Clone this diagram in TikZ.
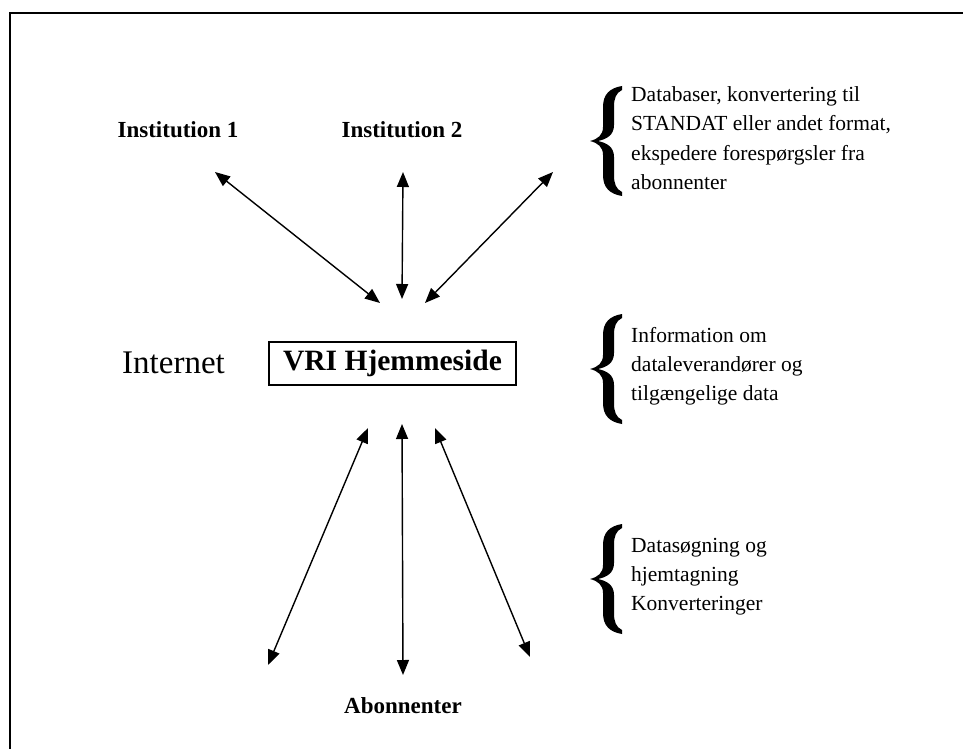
\documentclass[tikz,border=0pt]{standalone}
\usepackage{fontspec}
\setmainfont{Liberation Serif}
\usetikzlibrary{arrows.meta}
\tikzset{
  body/.style={font=\fontsize{21.5}{26}\selectfont, inner sep=0pt, anchor=base west},
  boldlab/.style={font=\bfseries\fontsize{23}{26}\selectfont, inner sep=0pt, anchor=base},
  arr/.style={line width=1.4pt, {Triangle[length=15pt,width=12pt]}-{Triangle[length=15pt,width=12pt]}},
  curlyb/.pic={
    \fill (32,1) .. controls (20,3) and (13,9) .. (13,22) -- (13,42)
      .. controls (13,50) and (8,54) .. (0,56)
      .. controls (8,58) and (13,62) .. (13,70) -- (13,90)
      .. controls (13,103) and (20,109) .. (32,111)
      -- (32,107) .. controls (26,104) and (24,99) .. (24,90) -- (24,72)
      .. controls (24,62) and (17,58) .. (8,56)
      .. controls (17,54) and (24,50) .. (24,40) -- (24,22)
      .. controls (24,13) and (26,8) .. (32,5) -- cycle;
  }
}
\begin{document}
\begin{tikzpicture}[x=1pt,y=-1pt]
\useasboundingbox (0,0) rectangle (963,749);
\fill[white] (0,0) rectangle (963,749);
% frame
\draw[line width=2pt] (10,760) -- (10,13) -- (975,13);

% labels
\node[boldlab] (inst1) at (178,137) {Institution 1};
\node[boldlab] (inst2) at (402,137) {Institution 2};
\node[boldlab] (abon) at (403,713) {Abonnenter};
\node[draw, line width=1.2pt, minimum width=247pt, minimum height=43pt, inner sep=0pt,
      font=\bfseries\fontsize{29.5}{32}\selectfont] (vri) at (392.5,363.5) {VRI Hjemmeside};
\node[body, font=\fontsize{33}{36}\selectfont] (inet) at (122,373) {Internet};

% arrow endpoints
\coordinate (a1s) at (215,172); \coordinate (a1e) at (380,303);
\coordinate (a2s) at (403,172); \coordinate (a2e) at (402,299);
\coordinate (a3s) at (553,172); \coordinate (a3e) at (425,303);
\coordinate (b1s) at (368,428); \coordinate (b1e) at (268,665);
\coordinate (b2s) at (402,424); \coordinate (b2e) at (403,675);
\coordinate (b3s) at (435,428); \coordinate (b3e) at (530,657);
\draw[arr] (a1s) -- (a1e);
\draw[arr] (a2s) -- (a2e);
\draw[arr] (a3s) -- (a3e);
\draw[arr] (b1s) -- (b1e);
\draw[arr] (b2s) -- (b2e);
\draw[arr] (b3s) -- (b3e);

% braces
\pic (br1) at (590,85) {curlyb};
\pic (br2) at (590,313) {curlyb};
\pic (br3) at (590,523) {curlyb};

% text blocks
\node[body] (t1a) at (631,102) {Databaser, konvertering til};
\node[body] (t1b) at (631,131) {STANDAT eller andet format,};
\node[body] (t1c) at (631,160) {ekspedere forespørgsler fra};
\node[body] (t1d) at (631,189) {abonnenter};

\node[body] (t2a) at (631,342) {Information om};
\node[body] (t2b) at (631,371) {dataleverandører og};
\node[body] (t2c) at (631,400) {tilgængelige data};

\node[body] (t3a) at (631,552) {Datasøgning og};
\node[body] (t3b) at (631,581) {hjemtagning};
\node[body] (t3c) at (631,610) {Konverteringer};
\end{tikzpicture}
\end{document}
